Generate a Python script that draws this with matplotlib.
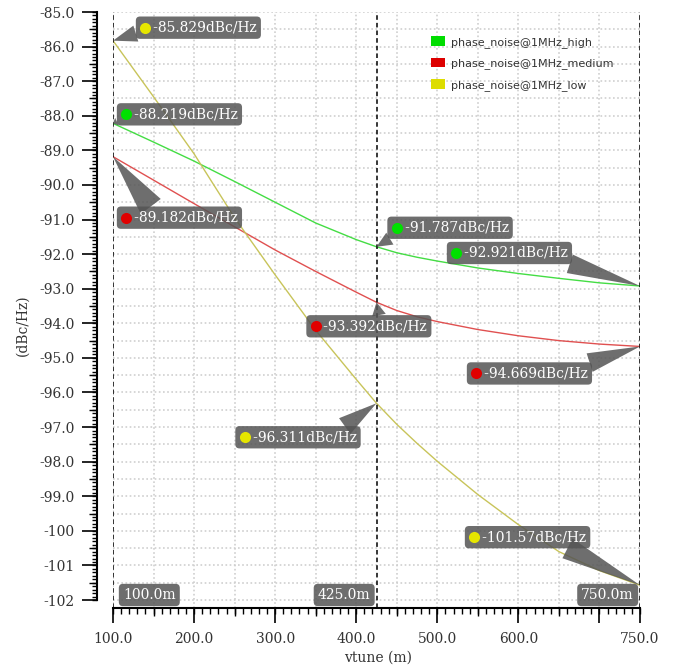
import numpy as np
import matplotlib
matplotlib.use('Agg')
import matplotlib.pyplot as plt
from matplotlib.patches import Patch
from matplotlib.ticker import FuncFormatter
from matplotlib.transforms import offset_copy

# vtune sweep (mV) and phase noise @1MHz offset (dBc/Hz)
vtune = [100, 150, 200, 250, 300, 350, 400, 425, 450, 475, 500, 550, 600, 650, 700, 750]
pn_high = [-88.219, -88.76, -89.31, -89.90, -90.50, -91.10, -91.58, -91.787,
           -91.96, -92.09, -92.20, -92.40, -92.56, -92.70, -92.83, -92.921]
pn_medium = [-89.182, -89.86, -90.54, -91.21, -91.88, -92.50, -93.10, -93.392,
             -93.63, -93.81, -93.95, -94.18, -94.36, -94.50, -94.60, -94.669]
pn_low = [-85.829, -87.45, -89.10, -90.95, -92.60, -94.20, -95.62, -96.311,
          -96.92, -97.47, -97.99, -98.95, -99.82, -100.60, -101.15, -101.57]
series_names = ['phase_noise@1MHz_high', 'phase_noise@1MHz_medium', 'phase_noise@1MHz_low']

marker_x = [100, 425, 750]
marker_labels = ['100.0m', '425.0m', '750.0m']
xtick_vals = [100, 200, 300, 400, 500, 600, 700, 750]
xtick_labels = ['100.0', '200.0', '300.0', '400.0', '500.0', '600.0', '', '750.0']

line_colors = ['#44dd44', '#e05050', '#c8c45a']
dot_colors = ['#00e000', '#e00000', '#e6e600']
patch_colors = ['#00dd00', '#dd0000', '#dddd00']
box_gray = '#555555'
serif = 'DejaVu Serif'

fig = plt.figure(figsize=(6.78, 6.68), dpi=100)
ax = fig.add_axes([113 / 678, 60 / 668, 527 / 678, 596 / 668])
ax.set_xlim(100, 750)
ax.set_ylim(-102.23, -85)

all_series = [pn_high, pn_medium, pn_low]
for vals, c in zip(all_series, line_colors):
    ax.plot(vtune, vals, color=c, lw=1.0, zorder=3)

for x in marker_x:
    ax.axvline(x, color='black', ls=(0, (3, 2)), lw=1.1, zorder=4)

# spines (left axis sits 16 px out from the data area)
for s in ['top', 'right']:
    ax.spines[s].set_visible(False)
ax.spines['left'].set_position(('outward', 16 * 72 / 100))
ax.spines['left'].set_bounds(-102, -85)
ax.spines['left'].set_linewidth(1.5)
ax.spines['bottom'].set_linewidth(1.5)

# ticks
ax.set_xticks(xtick_vals)
ax.set_xticklabels(xtick_labels)
ax.set_xticks(np.arange(150, 750, 50), minor=True)
ax.set_yticks(np.arange(-102, -84.9, 1))
ax.set_yticks(np.arange(-101.5, -85, 1), minor=True)
ax.yaxis.set_major_formatter(FuncFormatter(
    lambda v, p: f'{v:.1f}' if abs(v) < 99.5 else f'{v:.0f}'))
ax.tick_params(axis='both', which='major', length=11, width=1.2, pad=5,
               labelsize=10, labelcolor='#333333')
ax.tick_params(axis='x', which='major', pad=6.5)
ax.tick_params(axis='both', which='minor', length=6, width=1.0)
for lab in ax.get_xticklabels() + ax.get_yticklabels():
    lab.set_family(serif)

secx = ax.secondary_xaxis(0)
secx.set_xticks(np.arange(100, 751, 10))
secx.tick_params(length=4, width=1.0, labelbottom=False)
secx.spines['bottom'].set_visible(False)
secy = ax.secondary_yaxis(-16 / 527)
secy.set_yticks(np.arange(-102, -84.95, 0.1))
secy.tick_params(length=3.5, width=1.0, labelleft=False)
secy.spines['left'].set_visible(False)

ax.grid(True, which='both', color='#cfcfcf', ls=(0, (1, 1.5)), lw=1.2)
ax.set_axisbelow(True)

ax.set_ylabel('(dBc/Hz)', family=serif, fontsize=10, color='#333333')
ax.yaxis.set_label_coords(-0.158, 0.475)
ax.set_xlabel('vtune (m)', family=serif, fontsize=10, color='#333333')
ax.xaxis.set_label_coords(0.503, -0.071)

# marker labels at bottom
for x, lab, ha, dx in zip(marker_x, marker_labels, ['left', 'right', 'right'], [10, -6, -6]):
    ax.annotate(lab, xy=(x, 0), xycoords=('data', 'axes fraction'),
                xytext=(dx, 13), textcoords='offset pixels', ha=ha, va='center',
                color='white', fontsize=10, family=serif, zorder=6,
                bbox=dict(boxstyle='round,pad=0.3', fc=box_gray, ec='none', alpha=0.85),
                annotation_clip=False)

# callouts: (series index, x value, dx, dy, relpos, tail width)
callouts = [
    (2, 100, 32, 13, (0.05, 0.3), 1.2),
    (0, 100, 13, 9, (0.05, 0.3), 0.6),
    (1, 100, 13, -61, (0.3, 0.8), 1.8),
    (0, 425, 20, 19, (0.1, 0.3), 1.0),
    (0, 750, -184, 33, (0.8, 0.3), 1.4),
    (1, 425, -61, -24, (0.6, 0.7), 1.0),
    (1, 750, -164, -27, (0.8, 0.7), 1.4),
    (2, 425, -132, -34, (0.8, 0.7), 1.4),
    (2, 750, -166, 48, (0.7, 0.3), 1.6),
]
for si, xv, dx, dy, rel, tw in callouts:
    pi = vtune.index(xv)
    x = vtune[pi]
    y = all_series[si][pi]
    ax.annotate('   ' + f'{y:.5g}dBc/Hz', xy=(x, y), xytext=(dx - 5, dy),
                textcoords='offset pixels', ha='left', va='center',
                color='white', fontsize=10, family=serif, zorder=6,
                bbox=dict(boxstyle='round,pad=0.3', fc=box_gray, ec='none', alpha=0.85),
                arrowprops=dict(arrowstyle=f'wedge,tail_width={tw}', fc=box_gray,
                                ec='none', alpha=0.85, relpos=rel,
                                shrinkA=0, shrinkB=0),
                annotation_clip=False)
    ax.plot([x], [y], 'o', ms=8, color=dot_colors[si], mec='none', clip_on=False,
            zorder=7, transform=offset_copy(ax.transData, fig=fig, x=dx, y=dy, units='dots'))

handles = [Patch(fc=c, ec='none') for c in patch_colors]
fig.legend(handles, series_names, loc='upper left',
           bbox_to_anchor=(431 / 678, 1 - 36 / 668), frameon=False,
           prop={'family': 'DejaVu Sans', 'size': 8}, labelcolor='#333333',
           handlelength=1.3, handleheight=0.95, handletextpad=0.5,
           labelspacing=0.9, borderpad=0, borderaxespad=0)

fig.savefig('out.png', dpi=100)
